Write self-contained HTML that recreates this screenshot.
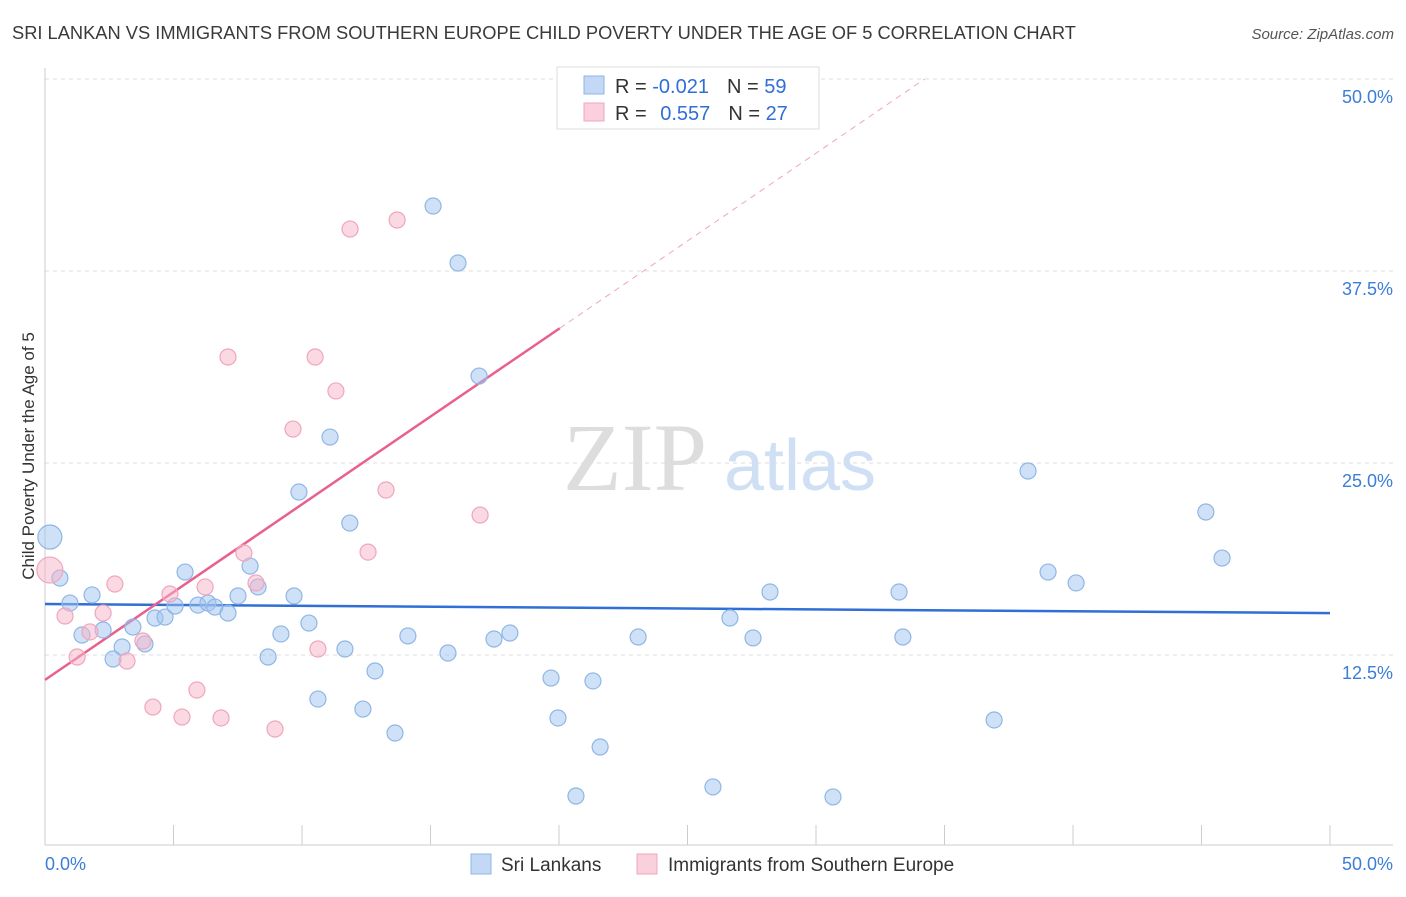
<!DOCTYPE html>
<html><head><meta charset="utf-8"><style>
body{margin:0;background:#fff;font-family:"Liberation Sans",sans-serif;}
</style></head><body>
<svg id="chart" width="1406" height="892" xmlns="http://www.w3.org/2000/svg">
<text x="12" y="39" font-size="18.3" fill="#3a3a3a">SRI LANKAN VS IMMIGRANTS FROM SOUTHERN EUROPE CHILD POVERTY UNDER THE AGE OF 5 CORRELATION CHART</text>
<text x="1394" y="39" font-size="15" fill="#555" font-style="italic" text-anchor="end">Source: ZipAtlas.com</text>
<text x="34" y="456" font-size="17" fill="#333" text-anchor="middle" transform="rotate(-90 34 456)">Child Poverty Under the Age of 5</text>
<g><text x="635" y="490" font-size="96" fill="#ddd" font-family="Liberation Serif,serif" text-anchor="middle">ZIP</text><text x="800" y="490" font-size="72" fill="#cfe0f5" text-anchor="middle">atlas</text></g>
<g id="grid"></g><g id="axes"></g><g id="lines"></g><g id="pts"></g>
<g>
<rect x="557" y="67" width="262" height="62" fill="#fff" stroke="#ddd"/>
<rect x="584" y="76" width="20" height="18" fill="#c2d8f5" stroke="#8fb6e6"/>
<rect x="584" y="103" width="20" height="18" fill="#fbd0dd" stroke="#f0a5bd"/>
<text x="615" y="93" font-size="20" fill="#333">R = <tspan fill="#2f6fd6">-0.021</tspan><tspan dx="18">N = </tspan><tspan fill="#2f6fd6">59</tspan></text>
<text x="615" y="120" font-size="20" fill="#333">R = <tspan fill="#2f6fd6" dx="8">0.557</tspan><tspan dx="18">N = </tspan><tspan fill="#2f6fd6">27</tspan></text>
</g>
<g>
<rect x="471" y="854" width="20" height="20" fill="#c2d8f5" stroke="#8fb6e6"/>
<text x="501" y="871" font-size="19" fill="#333">Sri Lankans</text>
<rect x="637" y="854" width="20" height="20" fill="#fbd0dd" stroke="#f0a5bd"/>
<text x="668" y="871" font-size="19" fill="#333">Immigrants from Southern Europe</text>
</g>
</svg>
<script>
const yTicks=[12.5,25,37.5,50];
const xTickLabels=["0.0%","50.0%"];
const blueX=[0.19,0.58,0.97,1.83,1.44,2.26,2.65,3.00,3.42,3.89,4.28,4.67,5.06,5.45,5.95,6.34,6.61,7.12,7.51,7.98,8.29,8.68,9.18,9.69,9.88,10.27,10.62,11.09,11.67,11.86,12.37,12.84,13.62,14.12,15.10,15.68,16.07,16.89,17.47,18.09,19.69,19.96,20.66,21.32,21.60,23.08,25.99,26.65,27.55,28.21,30.66,33.23,33.38,36.93,38.25,39.03,40.12,45.17,45.80];
const blueY=[20.18,17.51,15.88,16.41,13.80,14.13,12.24,13.02,14.32,13.22,14.91,14.97,15.69,17.90,15.75,15.88,15.62,15.23,16.34,18.29,16.93,12.37,13.87,16.34,23.11,14.58,9.63,26.69,12.89,21.09,8.98,11.46,7.42,13.74,41.73,12.63,38.02,30.66,13.54,13.93,11.00,8.40,3.32,10.81,6.51,13.67,3.91,14.91,13.61,16.60,3.26,16.60,13.67,8.27,24.48,17.90,17.19,21.81,18.81];
const pinkX=[0.19,0.78,1.25,1.75,2.26,2.72,3.19,3.81,4.20,4.86,5.33,5.91,6.23,6.85,7.12,7.74,8.21,8.95,9.65,10.51,10.62,11.32,11.87,12.57,13.27,13.70,16.93];
const pinkY=[18.03,15.04,12.37,14.00,15.23,17.12,12.11,13.41,9.11,16.47,8.46,10.22,16.93,8.40,31.90,19.14,17.19,7.68,27.21,31.90,12.89,29.69,40.23,19.20,23.24,40.82,21.61];
const blueTrend=[15.82,15.23];
const pinkTrend=[10.88,1.143];
const NS="http://www.w3.org/2000/svg";
const X=v=>45+v*25.7, Y=v=>847-v*15.36;
function mk(tag,attrs,parent){const e=document.createElementNS(NS,tag);for(const k in attrs)e.setAttribute(k,attrs[k]);document.getElementById(parent).appendChild(e);return e;}
yTicks.forEach(t=>{
 const l=mk('line',{x1:45,x2:1393,y1:Y(t),y2:Y(t),stroke:'#ddd','stroke-dasharray':'4,4'},'grid');
 
 
 const tx=mk('text',{x:1393,y:Y(t)+24,'font-size':18,fill:'#3b7dd8','text-anchor':'end'},'grid');
 tx.textContent=t.toFixed(1)+'%';
 
 
});
mk('line',{x1:45,x2:45,y1:68,y2:845,stroke:'#ccc'},'axes');
mk('line',{x1:45,x2:1393,y1:845,y2:845,stroke:'#ccc'},'axes');
for(let i=0;i<=10;i++){mk('line',{x1:X(i*5),x2:X(i*5),y1:825,y2:845,stroke:'#ccc'},'axes');}
const xl0=mk('text',{x:45,y:870,'font-size':18,fill:'#3b7dd8'},'axes');xl0.textContent=xTickLabels[0];


const xl1=mk('text',{x:1393,y:870,'font-size':18,fill:'#3b7dd8','text-anchor':'end'},'axes');xl1.textContent=xTickLabels[1];


blueX.forEach((v,i)=>{const c=mk('circle',{cx:X(v),cy:Y(blueY[i]),r:i==0?12:8,fill:'rgba(160,196,240,0.5)',stroke:'#8fb6e6','stroke-width':1.2},'pts');
 
 });
pinkX.forEach((v,i)=>{const c=mk('circle',{cx:X(v),cy:Y(pinkY[i]),r:i==0?13:8,fill:'rgba(248,180,200,0.5)',stroke:'#f0a5bd','stroke-width':1.2},'pts');
 
 });
const bl=mk('line',{x1:X(0),y1:Y(blueTrend[0]),x2:X(50),y2:Y(blueTrend[1]),stroke:'#2f6fd6','stroke-width':2.5},'lines');


const xEnd=Math.max(...pinkX)+3.1;
const pl=mk('line',{x1:X(0),y1:Y(pinkTrend[0]),x2:X(xEnd),y2:Y(pinkTrend[0]+pinkTrend[1]*xEnd),stroke:'#e8608e','stroke-width':2.5},'lines');


const xMax=(50-pinkTrend[0])/pinkTrend[1];
const pd=mk('line',{x1:X(xEnd),y1:Y(pinkTrend[0]+pinkTrend[1]*xEnd),x2:X(xMax),y2:Y(50),stroke:'#f0a5bd','stroke-width':1,'stroke-dasharray':'6,5'},'lines');


</script>
</body></html>
